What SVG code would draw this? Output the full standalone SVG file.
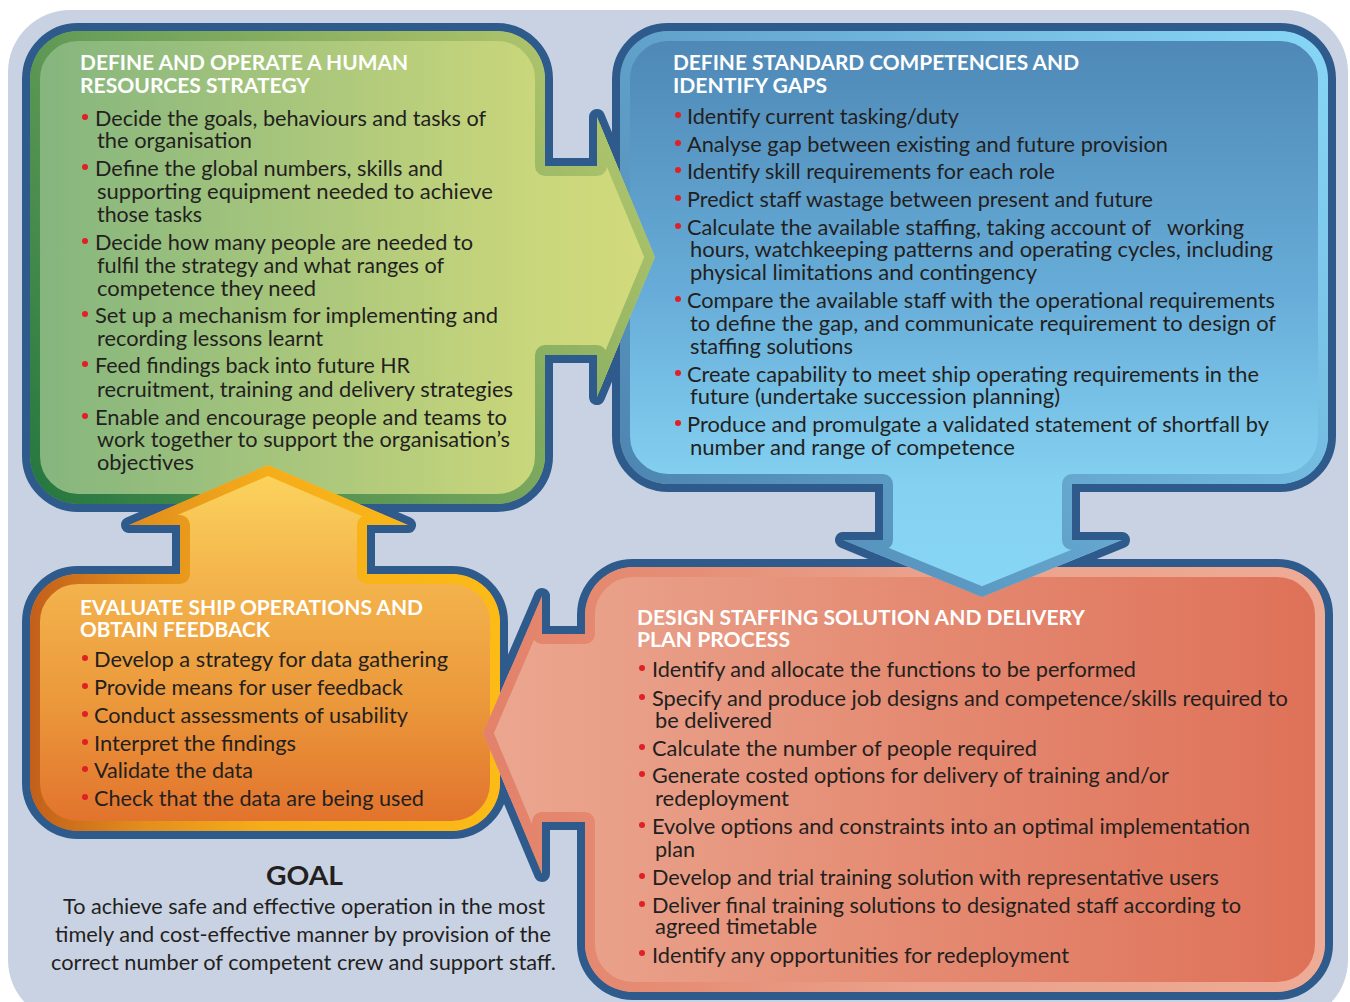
<svg xmlns="http://www.w3.org/2000/svg" xmlns:xlink="http://www.w3.org/1999/xlink" width="1350" height="1002" viewBox="0 0 1350 1002">
<style>
.ol{fill:#2e5b8c;stroke:#2e5b8c;stroke-width:16;stroke-linejoin:round}
.sh{stroke-width:20;stroke-linejoin:round}
.h{font-family:Lato,"Open Sans","Liberation Sans",sans-serif;font-weight:700;font-size:21px;fill:#ffffff}
.t{font-family:Lato,"Open Sans","Liberation Sans",sans-serif;font-size:21px;fill:#231f20}
.g{font-family:Lato,"Open Sans","Liberation Sans",sans-serif;font-weight:700;font-size:26px;fill:#231f20}
.d{fill:#e11f26}
.pre{white-space:pre}
</style>
<defs>
<path id="pG" d="M78,31 H497 A48,48 0 0 1 545,79 V166 H597 V117 L655,257 L597,397 V355 H545 V456 A48,48 0 0 1 497,504 H78 A48,48 0 0 1 30,456 V79 A48,48 0 0 1 78,31 Z"/>
<path id="pB" d="M668,31 H1280 A48,48 0 0 1 1328,79 V436 A48,48 0 0 1 1280,484 H1072 V540 H1122 L982,597 L843,540 H883 V484 H668 A48,48 0 0 1 620,436 V79 A48,48 0 0 1 668,31 Z"/>
<path id="pR" d="M633,567 H1277 A48,48 0 0 1 1325,615 V944 A48,48 0 0 1 1277,992 H633 A48,48 0 0 1 585,944 V822 H542 V874 L483,733 L542,596 V634 H585 V615 A48,48 0 0 1 633,567 Z"/>
<path id="pO" d="M78,574 H180 V525 H129 L268,465 L408,525 H367 V574 H452 A48,48 0 0 1 500,622 V783 A48,48 0 0 1 452,831 H78 A48,48 0 0 1 30,783 V622 A48,48 0 0 1 78,574 Z"/>
<clipPath id="cG"><path d="M78,31 H497 A48,48 0 0 1 545,79 V166 H597 V117 L655,257 L597,397 V355 H545 V456 A48,48 0 0 1 497,504 H78 A48,48 0 0 1 30,456 V79 A48,48 0 0 1 78,31 Z"/></clipPath>
<clipPath id="cB"><path d="M668,31 H1280 A48,48 0 0 1 1328,79 V436 A48,48 0 0 1 1280,484 H1072 V540 H1122 L982,597 L843,540 H883 V484 H668 A48,48 0 0 1 620,436 V79 A48,48 0 0 1 668,31 Z"/></clipPath>
<clipPath id="cR"><path d="M633,567 H1277 A48,48 0 0 1 1325,615 V944 A48,48 0 0 1 1277,992 H633 A48,48 0 0 1 585,944 V822 H542 V874 L483,733 L542,596 V634 H585 V615 A48,48 0 0 1 633,567 Z"/></clipPath>
<clipPath id="cO"><path d="M78,574 H180 V525 H129 L268,465 L408,525 H367 V574 H452 A48,48 0 0 1 500,622 V783 A48,48 0 0 1 452,831 H78 A48,48 0 0 1 30,783 V622 A48,48 0 0 1 78,574 Z"/></clipPath>
<clipPath id="cGa"><rect x="600" y="100" width="70" height="320"/></clipPath>
<clipPath id="cBa"><rect x="830" y="550" width="310" height="60"/></clipPath>
<clipPath id="cRa"><rect x="470" y="590" width="40" height="290"/></clipPath>
<linearGradient id="gGi" gradientUnits="userSpaceOnUse" x1="30" y1="0" x2="655" y2="0">
<stop offset="0" stop-color="#84b57e"/><stop offset="0.45" stop-color="#aac77c"/><stop offset="0.8" stop-color="#c9d67b"/><stop offset="1" stop-color="#d2db7c"/></linearGradient>
<linearGradient id="gGb" gradientUnits="userSpaceOnUse" x1="30" y1="504" x2="655" y2="31">
<stop offset="0" stop-color="#23763f"/><stop offset="0.45" stop-color="#6da15a"/><stop offset="0.75" stop-color="#9cb966"/><stop offset="1" stop-color="#bccd70"/></linearGradient>
<linearGradient id="gBi" gradientUnits="userSpaceOnUse" x1="0" y1="38" x2="0" y2="597">
<stop offset="0" stop-color="#4e88b6"/><stop offset="0.45" stop-color="#67acd8"/><stop offset="0.8" stop-color="#84d1f1"/><stop offset="1" stop-color="#88d6f6"/></linearGradient>
<linearGradient id="gBb" gradientUnits="userSpaceOnUse" x1="620" y1="597" x2="1328" y2="31">
<stop offset="0" stop-color="#487eaa"/><stop offset="0.5" stop-color="#67aad2"/><stop offset="1" stop-color="#88d7f7"/></linearGradient>
<linearGradient id="gRi" gradientUnits="userSpaceOnUse" x1="483" y1="0" x2="1325" y2="0">
<stop offset="0" stop-color="#eca68f"/><stop offset="0.15" stop-color="#e9a089"/><stop offset="0.5" stop-color="#e58b73"/><stop offset="1" stop-color="#de7158"/></linearGradient>
<linearGradient id="gRb" gradientUnits="userSpaceOnUse" x1="483" y1="0" x2="1325" y2="0">
<stop offset="0" stop-color="#e3816a"/><stop offset="0.25" stop-color="#e68f76"/><stop offset="0.5" stop-color="#eaa08a"/><stop offset="1" stop-color="#eeab95"/></linearGradient>
<linearGradient id="gOi" gradientUnits="userSpaceOnUse" x1="0" y1="465" x2="0" y2="831">
<stop offset="0" stop-color="#fcd65e"/><stop offset="0.3" stop-color="#f4b54d"/><stop offset="0.65" stop-color="#eb983b"/><stop offset="1" stop-color="#e1702c"/></linearGradient>
<linearGradient id="gOb" gradientUnits="userSpaceOnUse" x1="30" y1="0" x2="500" y2="0">
<stop offset="0" stop-color="#c25f1b"/><stop offset="0.25" stop-color="#e3901c"/><stop offset="0.5" stop-color="#f5ad1a"/><stop offset="1" stop-color="#fcbb16"/></linearGradient>
</defs>
<rect x="8" y="10" width="1340" height="1012" rx="62" fill="#c9d2e3"/>
<g id="outlines">
<use xlink:href="#pG" class="ol"/>
<use xlink:href="#pB" class="ol"/>
<use xlink:href="#pR" class="ol"/>
<use xlink:href="#pO" class="ol"/>
</g>
<g id="node-hr-strategy">
<g clip-path="url(#cG)"><use xlink:href="#pG" class="sh" fill="url(#gGi)" stroke="url(#gGb)"/></g>
<text class="h" x="80" y="70" textLength="328" lengthAdjust="spacingAndGlyphs">DEFINE AND OPERATE A HUMAN</text>
<text class="h" x="80" y="93" textLength="230" lengthAdjust="spacingAndGlyphs">RESOURCES STRATEGY</text>
<circle class="d" cx="85" cy="117" r="3"/><circle class="d" cx="85" cy="167" r="3"/><circle class="d" cx="85" cy="241" r="3"/><circle class="d" cx="85" cy="314" r="3"/><circle class="d" cx="85" cy="364" r="3"/><circle class="d" cx="85" cy="416" r="3"/>
<text class="t" x="95" y="126" textLength="391" lengthAdjust="spacingAndGlyphs">Decide the goals, behaviours and tasks of</text>
<text class="t" x="97" y="148" textLength="155" lengthAdjust="spacingAndGlyphs">the organisation</text>
<text class="t" x="95" y="176" textLength="348" lengthAdjust="spacingAndGlyphs">Define the global numbers, skills and</text>
<text class="t" x="97" y="199" textLength="396" lengthAdjust="spacingAndGlyphs">supporting equipment needed to achieve</text>
<text class="t" x="97" y="222" textLength="105" lengthAdjust="spacingAndGlyphs">those tasks</text>
<text class="t" x="95" y="250" textLength="378" lengthAdjust="spacingAndGlyphs">Decide how many people are needed to</text>
<text class="t" x="97" y="273" textLength="347" lengthAdjust="spacingAndGlyphs">fulfil the strategy and what ranges of</text>
<text class="t" x="97" y="296" textLength="219" lengthAdjust="spacingAndGlyphs">competence they need</text>
<text class="t" x="95" y="323" textLength="403" lengthAdjust="spacingAndGlyphs">Set up a mechanism for implementing and</text>
<text class="t" x="97" y="346" textLength="226" lengthAdjust="spacingAndGlyphs">recording lessons learnt</text>
<text class="t" x="95" y="373" textLength="315" lengthAdjust="spacingAndGlyphs">Feed findings back into future HR</text>
<text class="t" x="97" y="397" textLength="416" lengthAdjust="spacingAndGlyphs">recruitment, training and delivery strategies</text>
<text class="t" x="95" y="425" textLength="412" lengthAdjust="spacingAndGlyphs">Enable and encourage people and teams to</text>
<text class="t" x="97" y="447" textLength="413" lengthAdjust="spacingAndGlyphs">work together to support the organisation’s</text>
<text class="t" x="97" y="470" textLength="97" lengthAdjust="spacingAndGlyphs">objectives</text>
</g>
<g id="node-competencies">
<g clip-path="url(#cB)"><use xlink:href="#pB" class="sh" fill="url(#gBi)" stroke="url(#gBb)"/></g>
<text class="h" x="673" y="70" textLength="406" lengthAdjust="spacingAndGlyphs">DEFINE STANDARD COMPETENCIES AND</text>
<text class="h" x="673" y="93" textLength="154" lengthAdjust="spacingAndGlyphs">IDENTIFY GAPS</text>
<circle class="d" cx="678" cy="115" r="3"/><circle class="d" cx="678" cy="143" r="3"/><circle class="d" cx="678" cy="170" r="3"/><circle class="d" cx="678" cy="198" r="3"/><circle class="d" cx="678" cy="226" r="3"/><circle class="d" cx="678" cy="299" r="3"/><circle class="d" cx="678" cy="373" r="3"/><circle class="d" cx="678" cy="423" r="3"/>
<text class="t" x="687" y="124" textLength="272" lengthAdjust="spacingAndGlyphs">Identify current tasking/duty</text>
<text class="t" x="687" y="152" textLength="481" lengthAdjust="spacingAndGlyphs">Analyse gap between existing and future provision</text>
<text class="t" x="687" y="179" textLength="368" lengthAdjust="spacingAndGlyphs">Identify skill requirements for each role</text>
<text class="t" x="687" y="207" textLength="466" lengthAdjust="spacingAndGlyphs">Predict staff wastage between present and future</text>
<text class="t pre" x="687" y="235" textLength="557" lengthAdjust="spacingAndGlyphs">Calculate the available staffing, taking account of   working</text>
<text class="t" x="690" y="257" textLength="583" lengthAdjust="spacingAndGlyphs">hours, watchkeeping patterns and operating cycles, including</text>
<text class="t" x="690" y="280" textLength="347" lengthAdjust="spacingAndGlyphs">physical limitations and contingency</text>
<text class="t" x="687" y="308" textLength="588" lengthAdjust="spacingAndGlyphs">Compare the available staff with the operational requirements</text>
<text class="t" x="690" y="331" textLength="586" lengthAdjust="spacingAndGlyphs">to define the gap, and communicate requirement to design of</text>
<text class="t" x="690" y="354" textLength="163" lengthAdjust="spacingAndGlyphs">staffing solutions</text>
<text class="t" x="687" y="382" textLength="572" lengthAdjust="spacingAndGlyphs">Create capability to meet ship operating requirements in the</text>
<text class="t" x="690" y="404" textLength="370" lengthAdjust="spacingAndGlyphs">future (undertake succession planning)</text>
<text class="t" x="687" y="432" textLength="582" lengthAdjust="spacingAndGlyphs">Produce and promulgate a validated statement of shortfall by</text>
<text class="t" x="690" y="455" textLength="325" lengthAdjust="spacingAndGlyphs">number and range of competence</text>
</g>
<g id="node-design-staffing">
<g clip-path="url(#cR)"><use xlink:href="#pR" class="sh" fill="url(#gRi)" stroke="url(#gRb)"/></g>
<text class="h" x="637" y="625" textLength="448" lengthAdjust="spacingAndGlyphs">DESIGN STAFFING SOLUTION AND DELIVERY</text>
<text class="h" x="637" y="647" textLength="153" lengthAdjust="spacingAndGlyphs">PLAN PROCESS</text>
<circle class="d" cx="642" cy="668" r="3"/><circle class="d" cx="642" cy="697" r="3"/><circle class="d" cx="642" cy="747" r="3"/><circle class="d" cx="642" cy="774" r="3"/><circle class="d" cx="642" cy="825" r="3"/><circle class="d" cx="642" cy="876" r="3"/><circle class="d" cx="642" cy="904" r="3"/><circle class="d" cx="642" cy="953" r="3"/>
<text class="t" x="652" y="677" textLength="484" lengthAdjust="spacingAndGlyphs">Identify and allocate the functions to be performed</text>
<text class="t" x="652" y="706" textLength="636" lengthAdjust="spacingAndGlyphs">Specify and produce job designs and competence/skills required to</text>
<text class="t" x="655" y="728" textLength="117" lengthAdjust="spacingAndGlyphs">be delivered</text>
<text class="t" x="652" y="756" textLength="385" lengthAdjust="spacingAndGlyphs">Calculate the number of people required</text>
<text class="t" x="652" y="783" textLength="517" lengthAdjust="spacingAndGlyphs">Generate costed options for delivery of training and/or</text>
<text class="t" x="655" y="806" textLength="134" lengthAdjust="spacingAndGlyphs">redeployment</text>
<text class="t" x="652" y="834" textLength="598" lengthAdjust="spacingAndGlyphs">Evolve options and constraints into an optimal implementation</text>
<text class="t" x="655" y="857" textLength="40" lengthAdjust="spacingAndGlyphs">plan</text>
<text class="t" x="652" y="885" textLength="567" lengthAdjust="spacingAndGlyphs">Develop and trial training solution with representative users</text>
<text class="t" x="652" y="913" textLength="589" lengthAdjust="spacingAndGlyphs">Deliver final training solutions to designated staff according to</text>
<text class="t" x="655" y="934" textLength="162" lengthAdjust="spacingAndGlyphs">agreed timetable</text>
<text class="t" x="652" y="963" textLength="417" lengthAdjust="spacingAndGlyphs">Identify any opportunities for redeployment</text>
</g>
<g id="node-evaluate">
<g clip-path="url(#cO)"><use xlink:href="#pO" class="sh" fill="url(#gOi)" stroke="url(#gOb)"/></g>
<text class="h" x="80" y="615" textLength="343" lengthAdjust="spacingAndGlyphs">EVALUATE SHIP OPERATIONS AND</text>
<text class="h" x="80" y="637" textLength="190" lengthAdjust="spacingAndGlyphs">OBTAIN FEEDBACK</text>
<circle class="d" cx="85" cy="658" r="3"/><circle class="d" cx="85" cy="686" r="3"/><circle class="d" cx="85" cy="714" r="3"/><circle class="d" cx="85" cy="742" r="3"/><circle class="d" cx="85" cy="769" r="3"/><circle class="d" cx="85" cy="797" r="3"/>
<text class="t" x="94" y="667" textLength="354" lengthAdjust="spacingAndGlyphs">Develop a strategy for data gathering</text>
<text class="t" x="94" y="695" textLength="309" lengthAdjust="spacingAndGlyphs">Provide means for user feedback</text>
<text class="t" x="94" y="723" textLength="314" lengthAdjust="spacingAndGlyphs">Conduct assessments of usability</text>
<text class="t" x="94" y="751" textLength="202" lengthAdjust="spacingAndGlyphs">Interpret the findings</text>
<text class="t" x="94" y="778" textLength="159" lengthAdjust="spacingAndGlyphs">Validate the data</text>
<text class="t" x="94" y="806" textLength="330" lengthAdjust="spacingAndGlyphs">Check that the data are being used</text>
</g>
<g id="connectors">
<g clip-path="url(#cGa)"><g clip-path="url(#cG)"><use xlink:href="#pG" class="sh" fill="url(#gGi)" stroke="url(#gGb)"/></g></g>
<g clip-path="url(#cBa)"><g clip-path="url(#cB)"><use xlink:href="#pB" class="sh" fill="url(#gBi)" stroke="url(#gBb)"/></g></g>
<g clip-path="url(#cRa)"><g clip-path="url(#cR)"><use xlink:href="#pR" class="sh" fill="url(#gRi)" stroke="url(#gRb)"/></g></g>
</g>
<g id="goal">
<text class="g" x="266" y="885" textLength="77" lengthAdjust="spacingAndGlyphs">GOAL</text>
<text class="t" x="63" y="914" textLength="482" lengthAdjust="spacingAndGlyphs">To achieve safe and effective operation in the most</text>
<text class="t" x="55" y="942" textLength="496" lengthAdjust="spacingAndGlyphs">timely and cost-effective manner by provision of the</text>
<text class="t" x="51" y="970" textLength="505" lengthAdjust="spacingAndGlyphs">correct number of competent crew and support staff.</text>
</g>
</svg>
